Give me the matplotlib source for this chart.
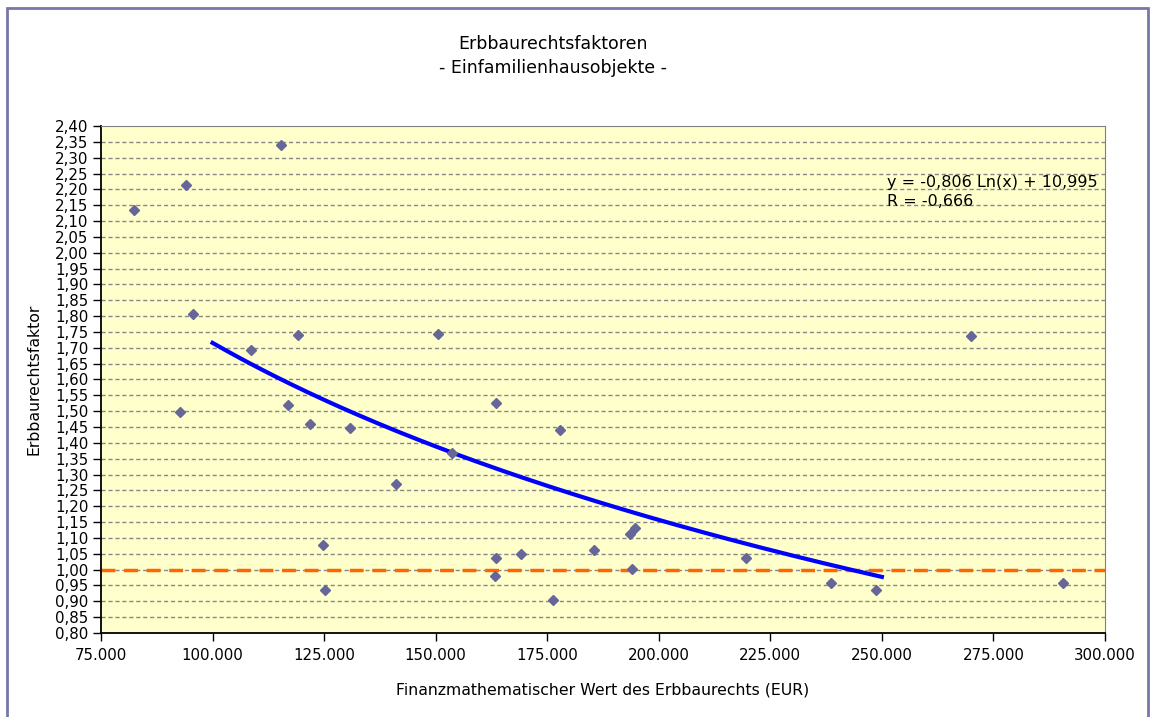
import numpy as np
import matplotlib.pyplot as plt
from matplotlib.patches import Rectangle
from matplotlib.ticker import FuncFormatter

#%%
#------ Datos --------------------------
wert = [82500, 94100, 115300, 95600, 119200, 108600, 92800, 116800, 121900, 130800,
        124800, 125300, 150500, 141100, 153700, 163600, 177900, 163600, 163200, 169200,
        176300, 185500, 193500, 194700, 194000, 219500, 238700, 248700, 270000, 290500]
faktor = [2.134, 2.215, 2.341, 1.808, 1.742, 1.693, 1.496, 1.521, 1.459, 1.448,
          1.078, 0.936, 1.745, 1.269, 1.369, 1.526, 1.440, 1.037, 0.981, 1.049,
          0.903, 1.063, 1.113, 1.131, 1.003, 1.038, 0.959, 0.937, 1.738, 0.959]

# Trendlinie y = a Ln(x) + b
coef_a = -0.806
coef_b = 10.995
trend_von = 100000
trend_bis = 250000

x_ticks = np.arange(75000, 300001, 25000)
y_ticks = np.arange(0.80, 2.401, 0.05)

#%%
fig = plt.figure(figsize=(11.55, 7.17), dpi=100)
fig.patch.set_facecolor('white')
fig.patches.append(Rectangle((7 / 1155, -0.01), 1141 / 1155, 1 - 8 / 717 + 0.01,
                             transform=fig.transFigure, fill=False,
                             edgecolor='#7777A8', linewidth=2))

ax = fig.add_axes([101 / 1155, 1 - 633 / 717, 1004 / 1155, 507 / 717])
ax.set_facecolor('#FFFFCC')

for yv in y_ticks[1:-1]:
    ax.axhline(yv, color='#888888', linewidth=1, linestyle=(0, (3, 2)), zorder=1)

ax.axhline(1.0, color='#FF6600', linewidth=2.5, linestyle=(0, (4, 2.5)), zorder=2,
           clip_on=False)

x_trend = np.linspace(trend_von, trend_bis, 200)
ax.plot(x_trend, coef_a * np.log(x_trend) + coef_b, color='#0000FF', linewidth=3, zorder=3)

ax.plot(wert, faktor, 'D', color='#666699', markersize=5, zorder=4)

ax.set_xlim(75000, 300000)
ax.set_ylim(0.80, 2.40)
ax.set_xticks(x_ticks)
ax.set_yticks(y_ticks)
ax.xaxis.set_major_formatter(FuncFormatter(lambda v, p: f'{int(round(v)):,}'.replace(',', '.')))
ax.yaxis.set_major_formatter(FuncFormatter(lambda v, p: f'{v:.2f}'.replace('.', ',')))
ax.tick_params(axis='both', direction='out', length=6, width=1, labelsize=10.8, colors='black')
ax.tick_params(axis='x', pad=5)
ax.tick_params(axis='y', pad=3)

for s in ['top', 'right']:
    ax.spines[s].set_color('#808080')
for s in ['left', 'bottom']:
    ax.spines[s].set_color('black')
    ax.spines[s].set_linewidth(1.3)

ax.set_xlabel('Finanzmathematischer Wert des Erbbaurechts (EUR)', fontsize=11.3, labelpad=14)
ax.set_ylabel('Erbbaurechtsfaktor', fontsize=11.3, labelpad=10)

fig.text(553 / 1155, 1 - 44 / 717, 'Erbbaurechtsfaktoren', ha='center', va='center', fontsize=12.5)
fig.text(553 / 1155, 1 - 68 / 717, '- Einfamilienhausobjekte -', ha='center', va='center', fontsize=12.5)

fig.text(887 / 1155, 1 - 182 / 717, 'y = -0,806 Ln(x) + 10,995', ha='left', va='center', fontsize=11.5)
fig.text(887 / 1155, 1 - 201 / 717, 'R = -0,666', ha='left', va='center', fontsize=11.5)

plt.savefig('out.png', dpi=100)
